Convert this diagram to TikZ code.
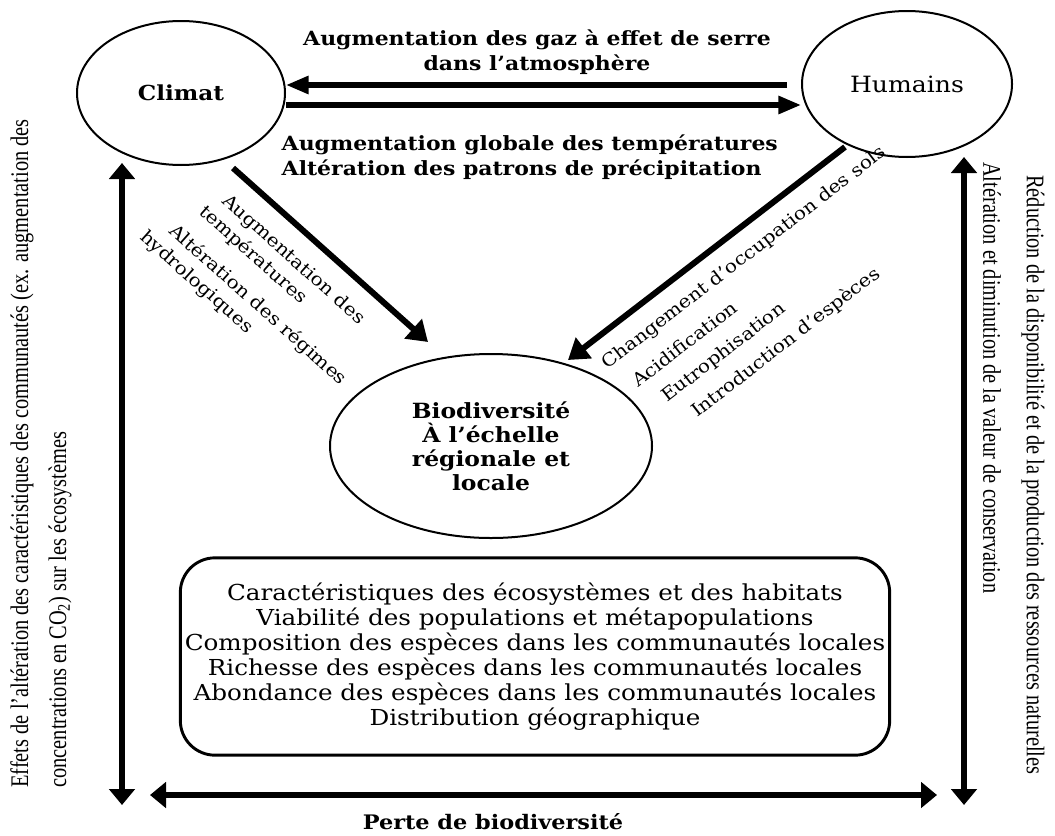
\documentclass[tikz,border=0pt]{standalone}
\usepackage{fontspec}
\setmainfont[FakeStretch=1.12]{DejaVu Serif}
\newfontfamily\sidefont[FakeStretch=0.805]{Liberation Serif}
\usetikzlibrary{arrows.meta,shapes.geometric}
\tikzset{
  oval/.style={draw, ellipse, line width=1.5pt, inner sep=0pt},
  arrtwo/.style={line width=3.8pt, {Triangle[length=12pt,width=19pt]}-{Triangle[length=12pt,width=19pt]}},
  arrtop/.style={line width=3.8pt, -{Triangle[length=17pt,width=13pt]}},
  arrdiag/.style={line width=4.5pt, -{Triangle[length=15pt,width=19pt]}},
  boldlab/.style={font=\fontsize{14.7}{18.75}\selectfont\bfseries, align=center},
  diaglab/.style={font=\fontsize{13.4}{16}\selectfont, anchor=base west, inner sep=0pt},
  sidelab/.style={font=\sidefont\fontsize{19}{22}\selectfont, anchor=west, inner sep=0pt},
}
\begin{document}
\begin{tikzpicture}[x=0.75pt,y=-0.75pt]
\useasboundingbox (0,0) rectangle (1055,835);
% main nodes
\node[oval, minimum width=156pt, minimum height=108pt, font=\fontsize{15.5}{18}\selectfont\bfseries] (climat) at (181,93) {Climat};
\node[oval, minimum width=157.5pt, minimum height=109.5pt, font=\fontsize{16.8}{19}\selectfont] (hum) at (907,84) {Humains};
\node[oval, minimum width=241.5pt, minimum height=138pt, align=center, font=\fontsize{15.7}{18}\selectfont\bfseries] (bio) at (491,446) {Biodiversité\\À l’échelle\\régionale et\\locale};
\node[draw, line width=2.2pt, rounded corners=26pt, minimum width=525pt, minimum height=148pt, align=center, font=\fontsize{16.5}{18.75}\selectfont] (box) at (535,656.5)
 {Caractéristiques des écosystèmes et des habitats\\Viabilité des populations et métapopulations\\Composition des espèces dans les communautés locales\\Richesse des espèces dans les communautés locales\\Abondance des espèces dans les communautés locales\\Distribution géographique};
% labels
\node[boldlab] (ltop) at (537,52) {Augmentation des gaz à effet de serre\\dans l’atmosphère};
\node[boldlab, anchor=west, align=left] (lmid) at (277,157) {Augmentation globale des températures\\Altération des patrons de précipitation};
\node[boldlab, font=\fontsize{15}{18}\selectfont\bfseries] (lbot) at (493,822) {Perte de biodiversité};
% left diagonal labels
\node[diaglab, rotate=-41.7] (dl1) at (221,202) {Augmentation des};
\node[diaglab, rotate=-41.7] (dl2) at (198,213) {températures};
\node[diaglab, rotate=-41.7] (dl3) at (168,232) {Altération des régimes};
\node[diaglab, rotate=-41.7] (dl4) at (139,238) {hydrologiques};
% right diagonal labels
\node[diaglab, rotate=37.6] (dr1) at (607,370) {Changement d’occupation des sols};
\node[diaglab, rotate=37.6] (dr2) at (638,388) {Acidification};
\node[diaglab, rotate=37.6] (dr3) at (667,403) {Eutrophisation};
\node[diaglab, rotate=37.6] (dr4) at (697,418) {Introduction d’espèces};
% side labels
\node[sidelab, rotate=90] (sl1) at (22,788) {Effets de l’altération des caractéristiques des communautés (ex. augmentation des};
\node[sidelab, rotate=90] (sl2) at (60,788) {concentrations en CO\textsubscript{2}) sur les écosystèmes};
\node[sidelab, rotate=-90] (sr1) at (1033,175) {Réduction de la disponibilité et de la production des ressources naturelles};
\node[sidelab, rotate=-90] (sr2) at (992,162) {Altération et diminution de la valeur de conservation};
% coordinates
\coordinate (t1s) at (787,85);
\coordinate (d1s) at (233,168);
\coordinate (d1e) at (428,342);
\coordinate (d2s) at (845,147);
\coordinate (d2e) at (568,360);
\coordinate (vlt) at (122,163);
\coordinate (vlb) at (122,805);
\coordinate (vrt) at (964,157);
\coordinate (vrb) at (964,805);
\coordinate (hl) at (150,795);
\coordinate (hr) at (937,795);
% connectors
\draw[arrtop] (t1s) -- (climat.east |- t1s);
\draw[arrtop] (climat.east |- 0,105) -- (hum.west |- 0,105);
\draw[arrdiag] (d1s) -- (d1e);
\draw[arrdiag] (d2s) -- (d2e);
\draw[arrtwo] (vlt) -- (vlb);
\draw[arrtwo] (vrt) -- (vrb);
\draw[arrtwo] (hl) -- (hr);
\end{tikzpicture}
\end{document}
